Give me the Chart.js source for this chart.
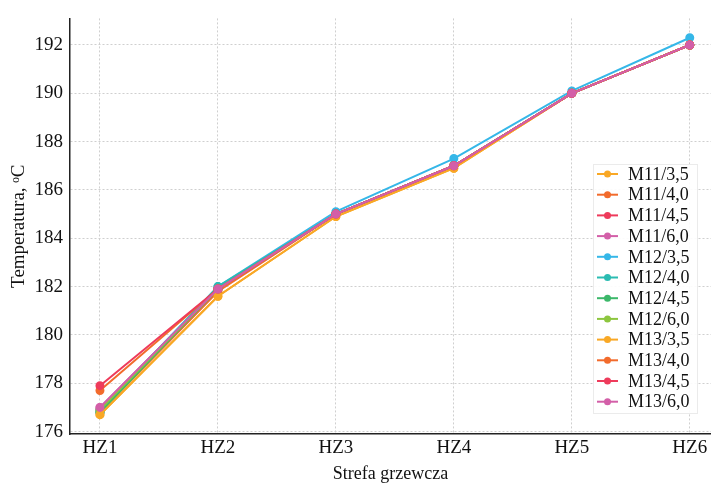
<!DOCTYPE html>
<html>
<head>
<meta charset="utf-8">
<script src="https://cdn.jsdelivr.net/npm/chart.js@4/dist/chart.umd.min.js"></script>
<style>
  html, body { margin: 0; padding: 0; background: #fff; }
  #wrap { width: 711px; height: 485px; }
</style>
</head>
<body>
<div id="wrap"><canvas id="tempChart" width="711" height="485"></canvas></div>
<script>
// heating zones
const zones = ["HZ1", "HZ2", "HZ3", "HZ4", "HZ5", "HZ6"];
const yTicks = [176, 178, 180, 182, 184, 186, 188, 190, 192];

const seriesNames = [
  "M11/3,5", "M11/4,0", "M11/4,5", "M11/6,0",
  "M12/3,5", "M12/4,0", "M12/4,5", "M12/6,0",
  "M13/3,5", "M13/4,0", "M13/4,5", "M13/6,0"
];
const seriesColors = [
  "#f9a825", "#f26b2c", "#ee3b5b", "#d35fa8",
  "#35b7e8", "#2bbcb2", "#3cb86a", "#8dc63f",
  "#f9a825", "#f26b2c", "#ee3b5b", "#d35fa8"
];

const m11_35 = [176.7, 181.6, 184.9, 186.9, 190.0, 192.0];
const m11_40 = [176.8, 181.8, 185.0, 187.0, 190.0, 192.0];
const m11_45 = [176.9, 181.9, 185.0, 187.0, 190.0, 192.0];
const m11_60 = [177.0, 181.9, 185.0, 187.0, 190.0, 192.0];
const m12_35 = [176.9, 182.0, 185.1, 187.3, 190.1, 192.3];
const m12_40 = [176.8, 182.0, 185.0, 187.0, 190.0, 192.0];
const m12_45 = [176.8, 181.9, 185.0, 187.0, 190.0, 192.0];
const m12_60 = [176.9, 181.9, 185.0, 187.0, 190.0, 192.0];
const m13_35 = [176.7, 181.6, 184.9, 186.9, 190.0, 192.0];
const m13_40 = [177.7, 181.9, 185.0, 187.0, 190.0, 192.0];
const m13_45 = [177.9, 181.9, 185.0, 187.0, 190.0, 192.0];
const m13_60 = [177.0, 181.9, 185.0, 187.0, 190.0, 192.0];

const seriesValues = [
  m11_35, m11_40, m11_45, m11_60,
  m12_35, m12_40, m12_45, m12_60,
  m13_35, m13_40, m13_45, m13_60
];

const FONT = "'Liberation Serif', 'Times New Roman', serif";

// later series are painted over earlier ones
const datasets = seriesNames.map((name, i) => ({
  label: name,
  data: seriesValues[i].map((v, j) => ({ x: j, y: v })),
  borderColor: seriesColors[i],
  backgroundColor: seriesColors[i],
  borderWidth: 2,
  pointRadius: 3.5,
  pointHoverRadius: 3.5,
  tension: 0,
  order: seriesNames.length - i
}));

// legend box drawn inside the plot, right side
const boxLegend = {
  id: "boxLegend",
  afterDraw(chart) {
    const ctx = chart.ctx;
    const x0 = 593, y0 = 164, w = 104, h = 249;
    const rowY = 174, rowStep = 20.7;
    ctx.save();
    ctx.fillStyle = "rgba(255,255,255,0.9)";
    ctx.strokeStyle = "rgba(215,215,215,0.5)";
    ctx.lineWidth = 1;
    ctx.fillRect(x0, y0, w, h);
    ctx.strokeRect(x0 + 0.5, y0 + 0.5, w, h);
    ctx.font = "18px " + FONT;
    ctx.textBaseline = "middle";
    chart.data.datasets.forEach((ds, i) => {
      const y = rowY + i * rowStep;
      ctx.strokeStyle = ds.borderColor;
      ctx.lineWidth = 2;
      ctx.beginPath();
      ctx.moveTo(597, y);
      ctx.lineTo(618, y);
      ctx.stroke();
      ctx.fillStyle = ds.borderColor;
      ctx.beginPath();
      ctx.arc(607.5, y, 3.5, 0, Math.PI * 2);
      ctx.fill();
      ctx.fillStyle = "#111";
      ctx.fillText(ds.label, 628, y + 1);
    });
    ctx.restore();
  }
};

new Chart(document.getElementById("tempChart"), {
  type: "line",
  data: { datasets },
  plugins: [boxLegend],
  options: {
    responsive: false,
    animation: false,
    layout: { autoPadding: false, padding: { top: 15, right: 0, left: 0, bottom: 0 } },
    plugins: {
      legend: { display: false },
      tooltip: { enabled: false }
    },
    scales: {
      x: {
        type: "linear",
        min: -0.254,
        max: 5.18,
        afterFit(scale) {
          scale.height = 51;
          scale.paddingLeft = 0;
          scale.paddingRight = 0;
        },
        afterBuildTicks(scale) {
          scale.ticks = zones.map((_, i) => ({ value: i }));
        },
        ticks: {
          callback: (v) => zones[v] ?? "",
          font: { family: FONT, size: 19 },
          color: "#111",
          padding: 3,
          maxRotation: 0
        },
        grid: {
          color: "#cfcfcf",
          drawTicks: false
        },
        border: { color: "#222", width: 1.5, dash: [2, 2] },
        title: {
          display: true,
          text: "Strefa grzewcza",
          font: { family: FONT, size: 18 },
          color: "#111",
          padding: { top: 0, bottom: 0 }
        }
      },
      y: {
        min: 175.9,
        max: 193.1,
        afterFit(scale) { scale.width = 70; },
        afterBuildTicks(scale) {
          scale.ticks = yTicks.map(v => ({ value: v }));
        },
        ticks: {
          font: { family: FONT, size: 19 },
          color: "#111",
          padding: 7
        },
        grid: {
          color: "#cfcfcf",
          drawTicks: false
        },
        border: { color: "#222", width: 1.5, dash: [2, 2] },
        title: {
          display: true,
          text: "Temperatura, ᵒC",
          font: { family: FONT, size: 19 },
          color: "#111",
          padding: 8
        }
      }
    }
  }
});
</script>
</body>
</html>
